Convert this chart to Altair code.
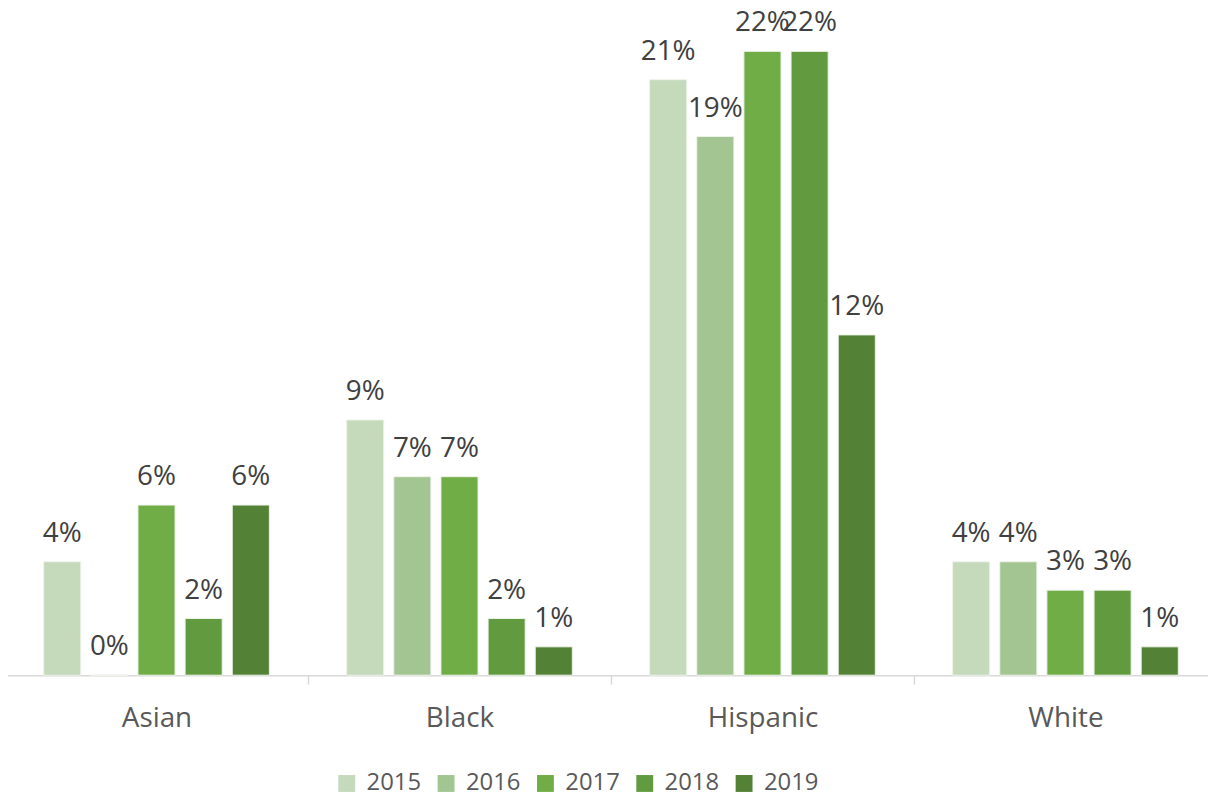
import altair as alt
import pandas as pd

categories = ["Asian", "Black", "Hispanic", "White"]
years = ["2015", "2016", "2017", "2018", "2019"]
v2015 = [4, 9, 21, 4]
v2016 = [0, 7, 19, 4]
v2017 = [6, 7, 22, 3]
v2018 = [2, 2, 22, 3]
v2019 = [6, 1, 12, 1]
colors = ["#c5d9bb", "#a3c592", "#70ad47", "#629b3f", "#538135"]

series = [v2015, v2016, v2017, v2018, v2019]
rows = []
for y, vals in zip(years, series):
    for c, v in zip(categories, vals):
        rows.append({"cat": c, "year": y, "value": v, "label": f"{v}%"})
df = pd.DataFrame(rows)

FONT = "Open Sans"

x = alt.X("cat:N", sort=categories, title=None,
          scale=alt.Scale(paddingInner=0, paddingOuter=0),
          axis=alt.Axis(labelAngle=0, labelFontSize=28, labelColor="#595959",
                        labelFont=FONT, domainColor="#d9d9d9", domainWidth=1.5,
                        tickColor="#d9d9d9", tickWidth=1.5, tickSize=9,
                        tickBand="extent", labelPadding=21, grid=False))
xo = alt.XOffset("year:N", sort=years,
                 scale=alt.Scale(paddingInner=0.213, paddingOuter=0.82))
y = alt.Y("value:Q", scale=alt.Scale(domain=[0, 22], nice=False, zero=True),
          axis=None)

bars = alt.Chart(df).mark_bar(stroke="#eef3ea", strokeWidth=1).encode(
    x=x, xOffset=xo, y=y,
    color=alt.Color("year:N", sort=years,
                    scale=alt.Scale(domain=years, range=colors),
                    legend=alt.Legend(title=None, orient="none", direction="horizontal",
                                      legendX=332, legendY=725, columns=5,
                                      symbolType="square", symbolSize=289,
                                      symbolStrokeWidth=0, labelFontSize=24,
                                      labelFont=FONT, labelColor="#595959",
                                      labelOffset=8, columnPadding=13)),
)

labels = alt.Chart(df).mark_text(baseline="alphabetic", dy=-20, fontSize=28,
                                  font=FONT, color="#404040").encode(
    x=x, xOffset=xo, y=y, text="label:N"
)

chart = alt.layer(bars, labels).properties(
    width=1220, height=628,
    autosize=alt.AutoSizeParams(type="none"),
    padding={"left": -3, "top": 41, "right": -9, "bottom": 124},
).configure_view(stroke=None)

chart.save("out.html", embed_options={"renderer": "svg", "actions": False})
